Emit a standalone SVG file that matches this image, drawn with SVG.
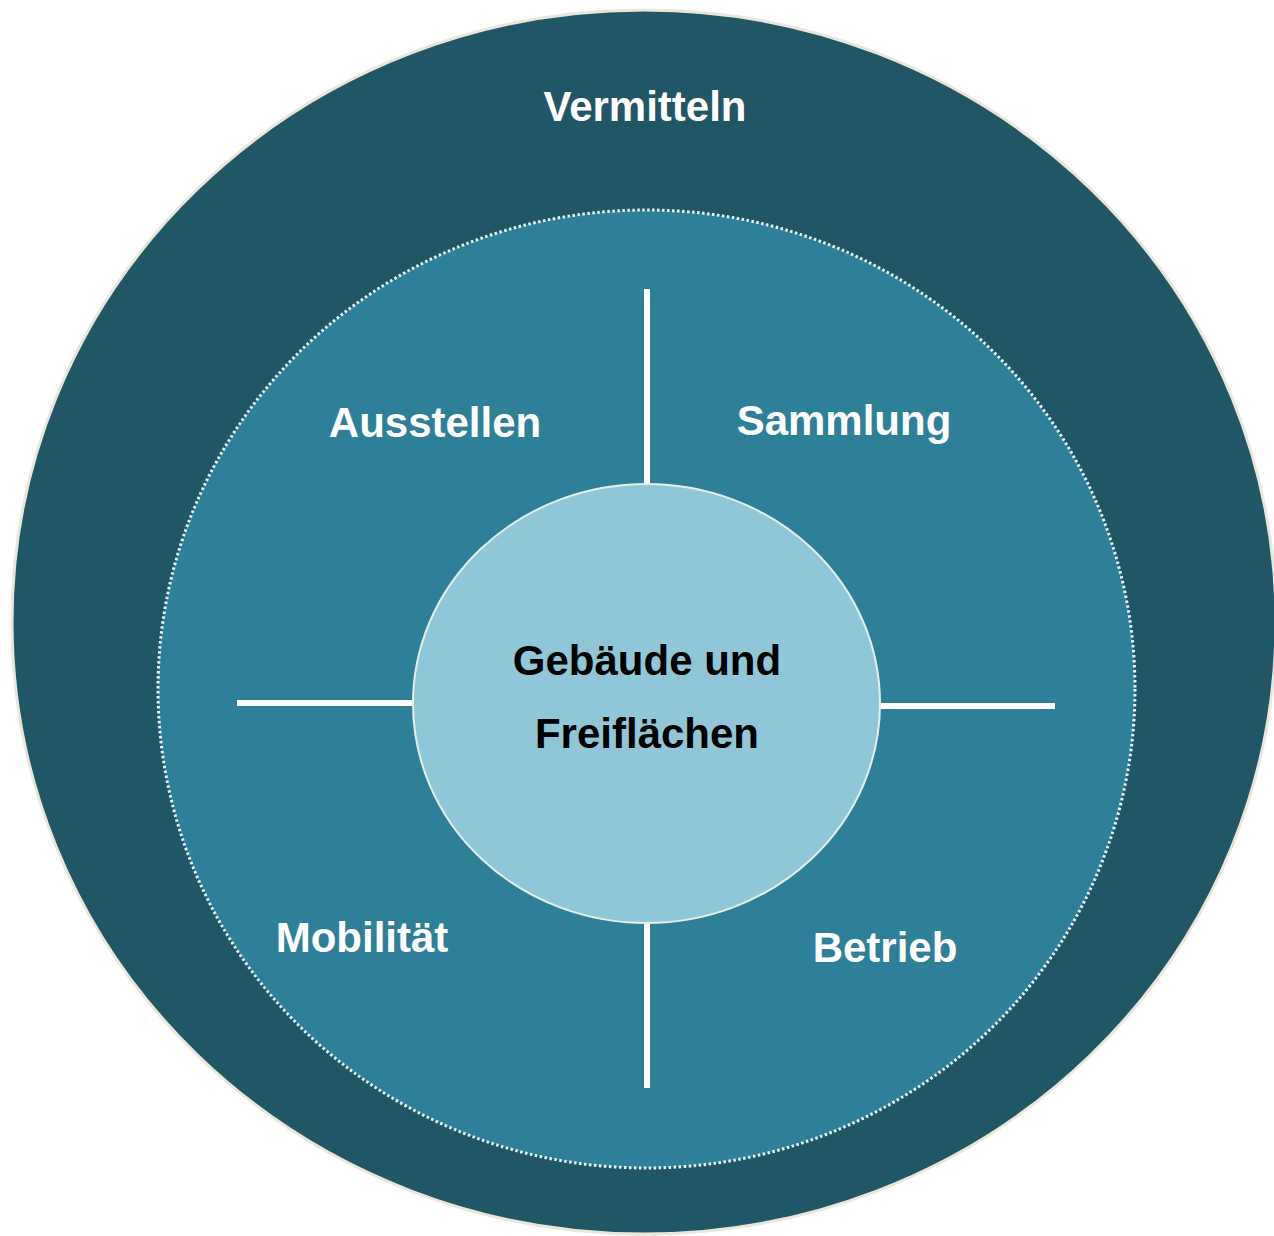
<svg xmlns="http://www.w3.org/2000/svg" width="1274" height="1236" viewBox="0 0 1274 1236">
  <style>
    .lbl { font-family: "Liberation Sans", Arial, sans-serif; font-weight: bold; font-size: 42px; text-anchor: middle; }
    .w { fill: #ffffff; }
    .k { fill: #000000; }
    .div { stroke: #ffffff; stroke-width: 6; fill: none; }
  </style>
  <rect width="1274" height="1236" fill="#ffffff"/>
  <g id="outer">
    <ellipse cx="644" cy="622" rx="632" ry="612" fill="#215667" stroke="#e9e6dc" stroke-width="3"/>
    <text class="lbl w" x="645" y="121">Vermitteln</text>
  </g>
  <g id="middle">
    <ellipse cx="646.5" cy="689" rx="488.5" ry="479" fill="#2e8099" stroke="#eef4f4" stroke-width="3" stroke-dasharray="2.5 2.5"/>
  </g>
  <g id="connectors">
    <line class="div" x1="647" y1="289" x2="647" y2="486"/>
    <line class="div" x1="647" y1="921" x2="647" y2="1088"/>
    <line class="div" x1="237" y1="703" x2="415" y2="703"/>
    <line class="div" x1="878" y1="706" x2="1055" y2="706"/>
  </g>
  <g id="ausstellen"><text class="lbl w" x="435" y="437">Ausstellen</text></g>
  <g id="sammlung"><text class="lbl w" x="844" y="435">Sammlung</text></g>
  <g id="mobilitaet"><text class="lbl w" x="362" y="952">Mobilität</text></g>
  <g id="betrieb"><text class="lbl w" x="885" y="962">Betrieb</text></g>
  <g id="center">
    <ellipse cx="646.5" cy="703.5" rx="233.5" ry="219.5" fill="#8fc7d9" stroke="#e6eee6" stroke-width="2"/>
    <text class="lbl k" x="647" y="675">Gebäude und</text>
    <text class="lbl k" x="647" y="748">Freiflächen</text>
  </g>
</svg>
